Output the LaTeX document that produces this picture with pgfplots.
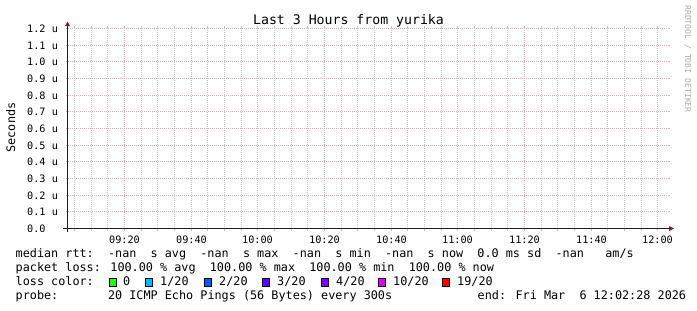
\documentclass[border=0pt]{standalone}
\usepackage{fontspec}
\setmainfont{DejaVu Sans Mono}
\usepackage{pgfplots}
\pgfplotsset{compat=1.18}
\definecolor{gridc}{HTML}{C4C4C4}
\definecolor{mgridc}{HTML}{F0A8A8}
\definecolor{arrowc}{HTML}{801F1F}
\definecolor{axisc}{HTML}{1F1F1F}
\definecolor{wmc}{HTML}{ABABAB}
\definecolor{lzero}{HTML}{26FF00}
\definecolor{lone}{HTML}{00B8FF}
\definecolor{ltwo}{HTML}{0059FF}
\definecolor{lthree}{HTML}{5E00FF}
\definecolor{lfour}{HTML}{7E00FF}
\definecolor{lten}{HTML}{DD00FF}
\definecolor{lnineteen}{HTML}{FF0000}
\newcommand\legfont{\fontsize{11.8bp}{14bp}\selectfont}
\newcommand\axfont{\fontsize{10.2bp}{12bp}\selectfont}
\newcommand\titfont{\fontsize{13.2bp}{15bp}\selectfont}
\newcommand\wmfont{\fontsize{8.1bp}{10bp}\selectfont}
\begin{document}
\begin{tikzpicture}[x=1bp,y=1bp]
\path[use as bounding box, fill=white] (0,0) rectangle (697,310);
\begin{axis}[
  at={(67.5bp,81.5bp)}, anchor=south west,
  scale only axis, width=600bp, height=200bp,
  xmin=2.9, xmax=182.9, ymin=0, ymax=1.2,
  axis line style={draw=none},
  xtick={20,80,140},
  xticklabels={09:20,10:20,11:20},
  extra x ticks={40.1,59.9,100.1,119.9,160.1,179.9},
  extra x tick labels={09:40,10:00,10:40,11:00,11:40,12:00},
  extra x tick style={
    major x grid style={gridc, line width=1bp, dash pattern=on 1bp off 1bp, dash phase=0.5bp},
    major tick style={gridc, line width=1bp, solid}},
  minor xtick={5,10.1,14.9,25.1,29.9,35,44.9,50,55.1,65,70.1,74.9,85.1,89.9,95,104.9,110,115.1,125,130.1,134.9,145.1,149.9,155,164.9,170,175.1},
  ytick={0,0.102,0.198,0.3,0.402,0.498,0.6,0.702,0.798,0.9,1.002,1.098,1.2},
  yticklabels={0.0,0.1 u,0.2 u,0.3 u,0.4 u,0.5 u,0.6 u,0.7 u,0.8 u,0.9 u,1.0 u,1.1 u,1.2 u},
  xmajorgrids, xminorgrids, ymajorgrids,
  major x grid style={mgridc, line width=1bp, dash pattern=on 1bp off 1bp, dash phase=0.5bp},
  major y grid style={mgridc, line width=1bp, dash pattern=on 1bp off 1bp, dash phase=0bp},
  minor x grid style={gridc, line width=1bp, dash pattern=on 1bp off 1bp, dash phase=0.5bp},
  tick align=outside, major tick length=2bp, minor tick length=2bp,
  xtick pos=both, ytick pos=both, xticklabel pos=left, yticklabel pos=left,
  major tick style={mgridc, line width=1bp, solid},
  minor tick style={gridc, line width=1bp, solid},
  xticklabel style={anchor=base, inner sep=0pt, font=\axfont, yshift=-12.5bp},
  yticklabel style={anchor=west, inner sep=0pt, font=\axfont, xshift=-38.5bp},
]
\addplot[draw=none, forget plot] coordinates {(2.9,0) (182.9,1.2)};
\end{axis}
% axes with arrows
\draw[axisc, line width=1bp] (63,81.5) -- (671,81.5);
\draw[axisc, line width=1bp] (67.5,78) -- (67.5,286);
\fill[arrowc] (669,84) -- (669,79) -- (674,81.5) -- cycle;
\fill[arrowc] (65,284) -- (70,284) -- (67.5,288.5) -- cycle;
% title, unit, watermark
\node[anchor=base, inner sep=0pt, font=\titfont] at (348.5,286) {Last 3 Hours from yurika};
\node[anchor=base, inner sep=0pt, rotate=90, font=\legfont] at (15,182.5) {Seconds};
\node[anchor=base, inner sep=0pt, rotate=-90, font=\wmfont, text=wmc] at (685,251) {RRDTOOL / TOBI OETIKER};
% legend
\node[anchor=base west, inner sep=0pt, font=\legfont] at (15.5,52.3) {median rtt:~~-nan~~s avg~~-nan~~s max~~-nan~~s min~~-nan~~s now~~0.0 ms sd~~-nan~~~am/s};
\node[anchor=base west, inner sep=0pt, font=\legfont] at (15.5,38.3) {packet loss: 100.00 \%~avg~~100.00 \%~max~~100.00 \%~min~~100.00 \%~now};
\node[anchor=base west, inner sep=0pt, font=\legfont] at (15.5,24.3) {loss color:};
\node[anchor=base west, inner sep=0pt, font=\legfont] at (15.5,10.3) {probe:~~~~~~~20 ICMP Echo Pings (56 Bytes) every 300s};
\node[anchor=base west, inner sep=0pt, font=\legfont] at (477.5,10.3) {end: Fri Mar~~6 12:02:28 2026};
\foreach \bx/\tx/\c/\lab in {108.5/123/lzero/0, 145/160/lone/1\slash 20, 204/219/ltwo/2\slash 20, 262/277/lthree/3\slash 20, 320.5/336/lfour/4\slash 20, 378/393/lten/10\slash 20, 442/457/lnineteen/19\slash 20}{
  \filldraw[fill=\c, draw=black, line width=1bp] (\bx+0.5,23.8) rectangle (\bx+7.9,31.2);
  \node[anchor=base west, inner sep=0pt, font=\legfont] at (\tx,24.3) {\lab};
}
\end{tikzpicture}
\end{document}
